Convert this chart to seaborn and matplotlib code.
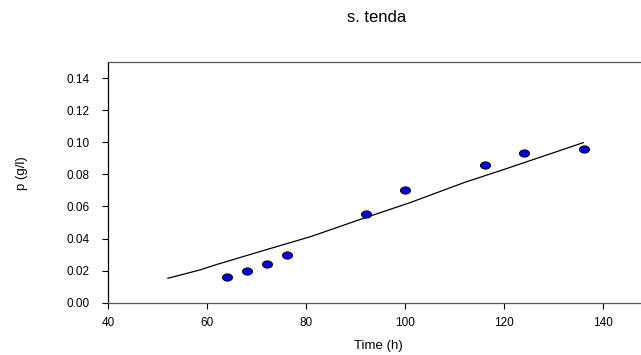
import numpy as np
import pandas as pd
import matplotlib
matplotlib.use("Agg")
import matplotlib.pyplot as plt
from matplotlib.path import Path
from matplotlib.ticker import FormatStrFormatter
import seaborn as sns

# Measured data
time_h = [64, 68, 72, 76, 92, 100, 116, 124, 136]
p_gl = [0.016, 0.020, 0.024, 0.030, 0.055, 0.070, 0.086, 0.093, 0.096]

# Fitted curve
fit_time = [52, 58.5, 62, 71, 81, 91, 101, 112, 120, 136]
fit_p = [0.0152, 0.0204, 0.0239, 0.0322, 0.0413, 0.0520, 0.0624, 0.0750, 0.0831, 0.0998]

x_ticks = [40, 60, 80, 100, 120, 140]
y_ticks = [0.00, 0.02, 0.04, 0.06, 0.08, 0.10, 0.12, 0.14]

title = "s. tenda"
x_label = "Time (h)"
y_label = "p (g/l)"

sns.set_theme(style="white")
plt.rcParams['font.family'] = ['Liberation Sans', 'DejaVu Sans']

fig = plt.figure(figsize=(6.41, 3.55), dpi=100)
ax = fig.add_axes([108.3 / 641, 52.3 / 355, 544.5 / 641, 240.7 / 355])

df_pts = pd.DataFrame({"t": time_h, "p": p_gl})
df_fit = pd.DataFrame({"t": fit_time, "p": fit_p})

sns.lineplot(data=df_fit, x="t", y="p", ax=ax, color="black", linewidth=0.9,
             sort=True, estimator=None)

theta = np.linspace(0, 2 * np.pi, 60)
ell = Path(np.column_stack([np.cos(theta), 0.72 * np.sin(theta)]), closed=True)
sns.scatterplot(data=df_pts, x="t", y="p", ax=ax, marker=ell, s=52,
                color="#0000e0", edgecolor="black", linewidth=0.7, zorder=3)

ax.set_xlim(40, 150)
ax.set_ylim(0, 0.15)
ax.set_xticks(x_ticks)
ax.set_yticks(y_ticks)
ax.yaxis.set_major_formatter(FormatStrFormatter('%.2f'))
ax.tick_params(axis='both', direction='out', length=4.5, width=0.8,
               labelsize=8.5, colors='black', pad=6)
ax.tick_params(axis='y', pad=9)
ax.tick_params(top=False, right=False, bottom=True, left=True)

for side in ['left', 'bottom', 'top']:
    ax.spines[side].set_visible(True)
    ax.spines[side].set_linewidth(0.9)
ax.spines['left'].set_color('black')
ax.spines['bottom'].set_color('#555555')
ax.spines['top'].set_color('#555555')
ax.spines['right'].set_visible(False)

ax.set_xlabel(x_label, fontsize=9.5, color='black', va='center')
ax.set_ylabel(y_label, fontsize=9.5, color='black', va='center')
ax.xaxis.set_label_coords((378 - 108.3) / 544.5, -(346 - 302.7) / 240.7)
ax.yaxis.set_label_coords(-(108.3 - 22) / 544.5, (302.7 - 173) / 240.7)

fig.text(377 / 641, 1 - 18 / 355, title, ha='center', va='center',
         fontsize=12, color='black')

fig.savefig("out.png", dpi=100)
